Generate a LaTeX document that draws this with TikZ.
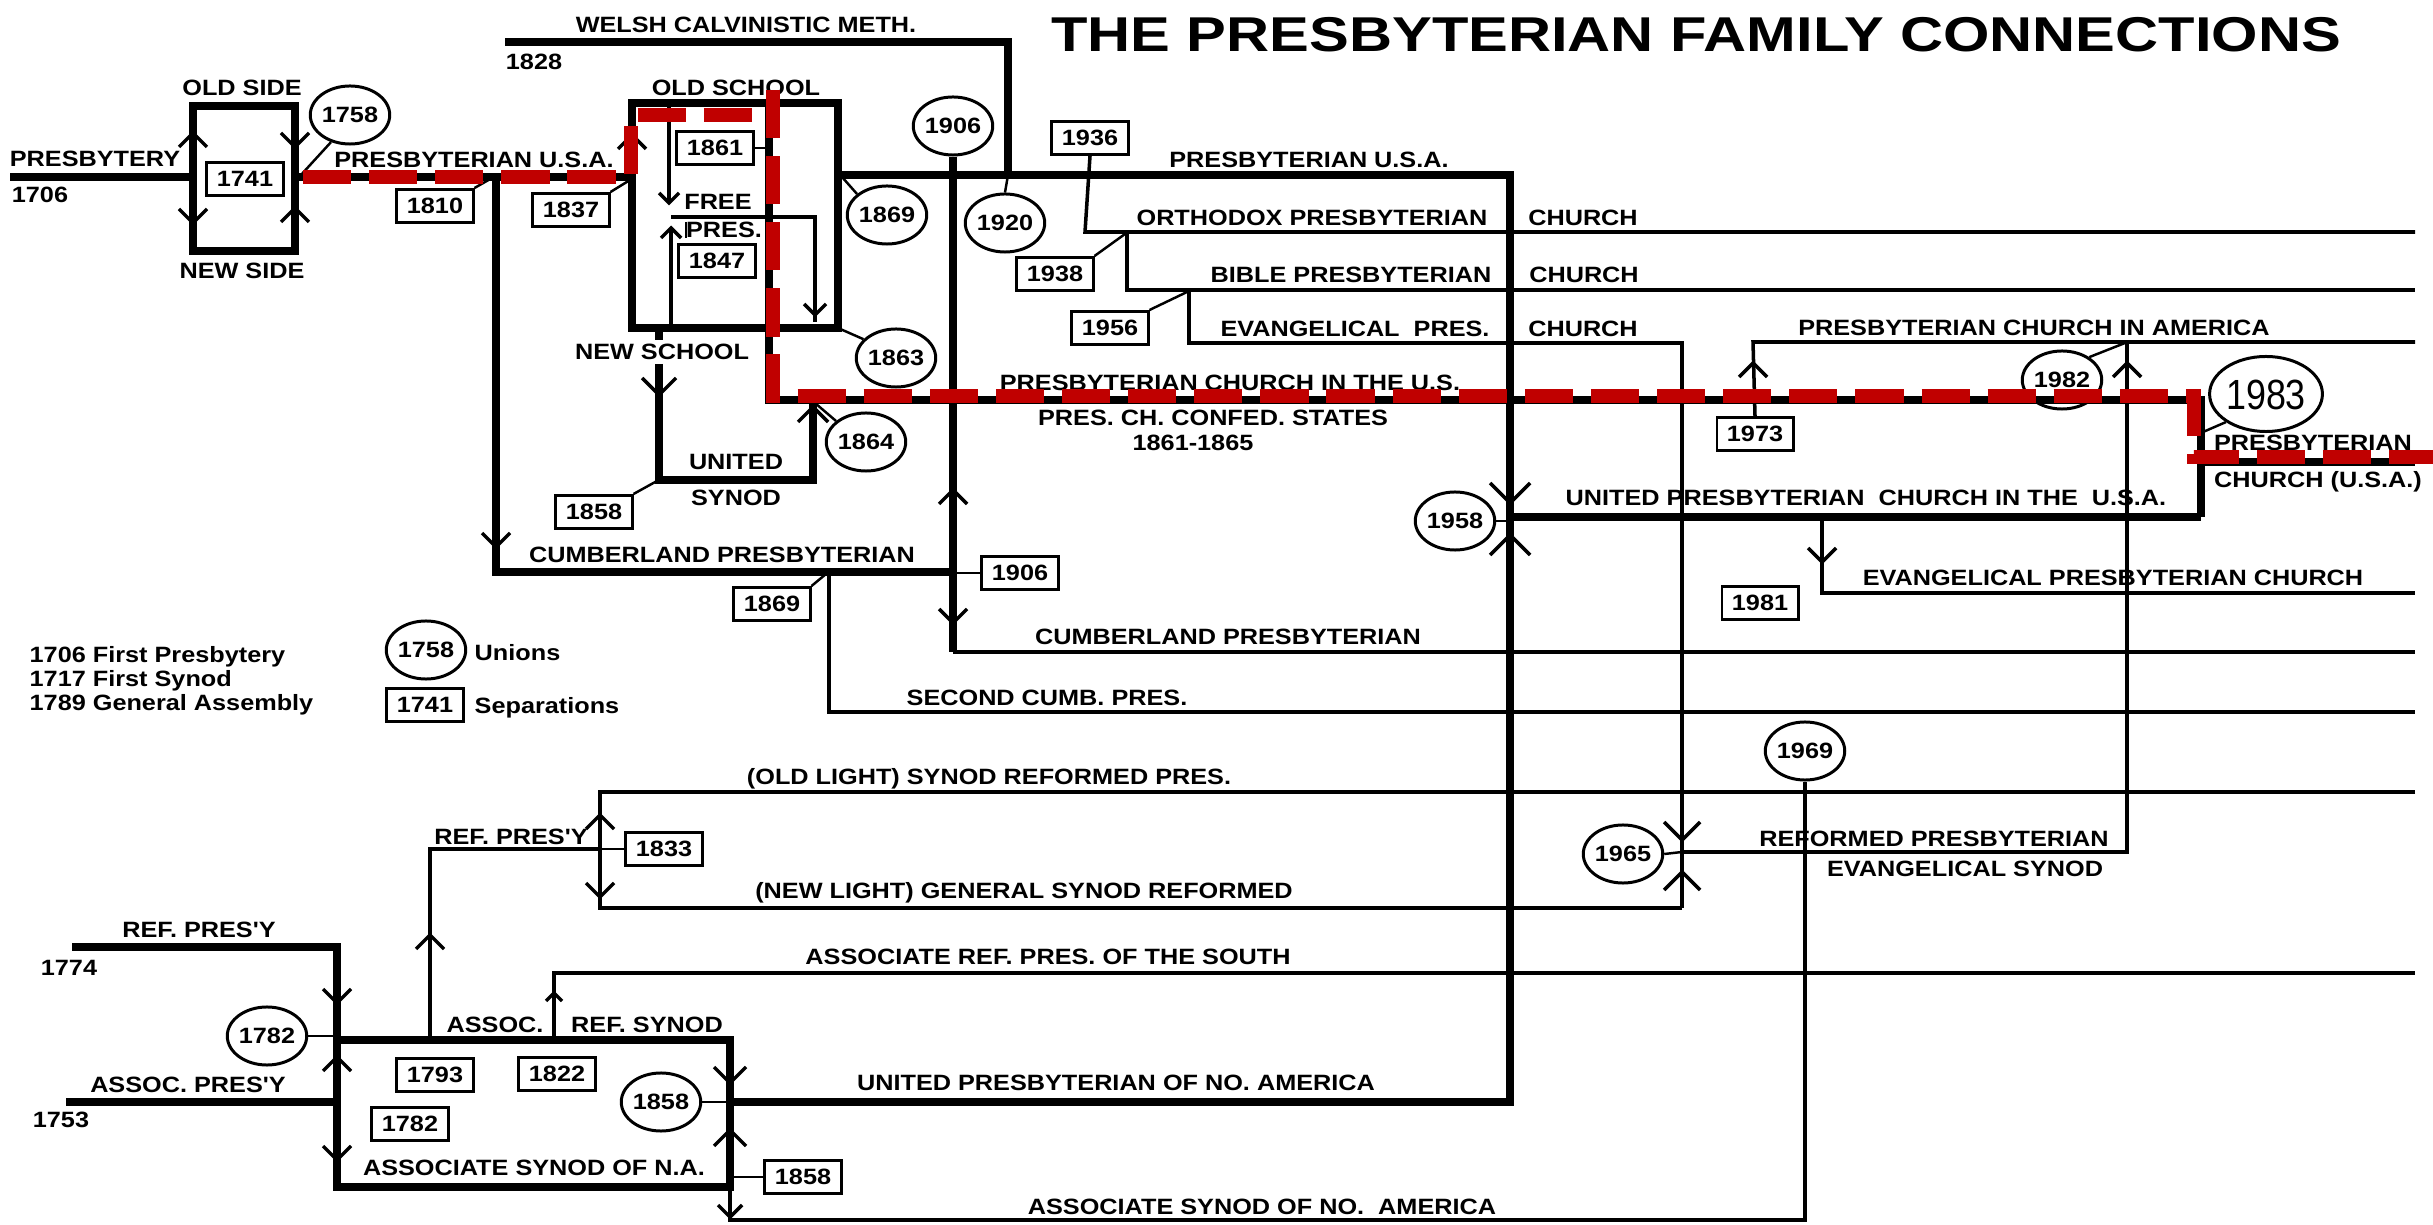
\documentclass[tikz,border=0pt]{standalone}
\usepackage{fontspec}
\setmainfont{Liberation Sans}
\newfontfamily\labfont[FakeStretch=1.14]{Liberation Sans Bold}
\newfontfamily\ttlfont[FakeStretch=1.22]{Liberation Sans Bold}
\newfontfamily\bigfont[FakeStretch=0.85]{Liberation Sans}
\usetikzlibrary{shapes.geometric}
\definecolor{rd}{RGB}{192,0,0}
\begin{document}
\begin{tikzpicture}[x=0.01cm,y=-0.01cm,
  thk/.style={line width=2.3pt},
  thn/.style={line width=1pt},
  ldr/.style={line width=0.7pt},
  chv/.style={line width=1pt},
  lbl/.style={font=\labfont\fontsize{6.3}{7}\selectfont, inner sep=0pt, text height=4.5pt, text depth=0pt},
  yrb/.style={draw, line width=0.85pt, inner sep=0pt, minimum width=0.76cm, minimum height=0.33cm,
              font=\labfont\fontsize{6.3}{7}\selectfont, text height=4.5pt, text depth=0pt},
  yrc/.style={ellipse, draw, line width=0.85pt, inner sep=0pt, minimum width=0.74cm, minimum height=0.58cm,
              font=\labfont\fontsize{6.3}{7}\selectfont, text height=4.5pt, text depth=0pt},
  rdash/.style={draw=rd, line width=4pt, dash pattern=on 13.7pt off 5.1pt},
  pics/cu/.style={code={\draw[chv] (-#1,#1)--(0,0)--(#1,#1);}},
  pics/cu/.default=14,
  pics/cd/.style={code={\draw[chv] (-#1,-#1)--(0,0)--(#1,-#1);}},
  pics/cd/.default=14]
\useasboundingbox[fill=white] (0,0) rectangle (2433,1225);

% ---------- title
\node[font=\ttlfont\fontsize{13.9}{16}\selectfont, inner sep=0pt, text height=9.95pt, text depth=0pt]
  (title) at (1696,34) {THE PRESBYTERIAN FAMILY CONNECTIONS};

% ---------- top left: presbytery, old side / new side
\node[lbl] (tPby) at (95,159) {PRESBYTERY};
\node[lbl] (t1706) at (40,195) {1706};
\draw[thk] (10,177) -- (193,177);
\draw[thk] (193,106) rectangle (295,251);
\node[lbl] (tOldSide) at (242,88) {OLD SIDE};
\node[lbl] (tNewSide) at (242,271) {NEW SIDE};
\node[yrb, fill=white] (b1741) at (245,179) {1741};
\pic at (193,133) {cu}; \pic at (193,223) {cd};
\pic at (295,147) {cd}; \pic at (295,208) {cu};
\node[yrc] (c1758) at (350,115) {1758};
\draw[ldr] (c1758.235) -- (300,176);

% ---------- presbyterian u.s.a. (first)
\draw[thk] (295,177) -- (632,177);
\node[lbl] (tPUSA1) at (474,160) {PRESBYTERIAN U.S.A.};
\node[yrb] (b1810) at (435,206) {1810};
\draw[ldr] (b1810.north east) -- (492,178);
\node[yrb] (b1837) at (571,210) {1837};
\draw[ldr] (b1837.north east) -- (630,180);

% ---------- cumberland (upper)
\draw[thk] (496,177) -- (496,572) -- (953,572);
\pic at (496,547) {cd};
\node[lbl] (tCumb1) at (722,555) {CUMBERLAND PRESBYTERIAN};
\node[yrb] (b1869b) at (772,604) {1869};
\draw[ldr] (b1869b.north east) -- (826,574);
\draw[thn] (829,572) -- (829,712) -- (2415,712);
\node[lbl] (tSecond) at (1047,698) {SECOND CUMB. PRES.};

% ---------- old school box
\draw[thk] (632,103) rectangle (838,328);
\pic at (632,135) {cu};
\node[lbl] (tOldSchool) at (736,88) {OLD SCHOOL};
\draw[thk] (769,103) -- (769,400) -- (2201,400) -- (2201,517);
\node[yrb] (b1861) at (715,148) {1861};
\draw[ldr] (b1861.east) -- (769,148);
% free presbyterian
\draw[thn] (669,103) -- (669,203);
\pic at (669,203) {cd=10};
\node[lbl] (tFree) at (718,202) {FREE};
\draw[thn] (671,217) -- (815,217) -- (815,322);
\draw[ldr] (686,222) -- (686,238);
\pic at (815,315) {cd=11};
\draw[thn] (671,328) -- (671,228);
\pic at (671,228) {cu=10};
\node[lbl] (tPres) at (724,230) {PRES.};
\node[yrb] (b1847) at (717,261) {1847};
\node[yrc] (c1869) at (887,215) {1869};
\draw[ldr] (c1869.145) -- (842,177);
\node[yrc] (c1863) at (896,358) {1863};
\draw[ldr] (838,328) -- (c1863.150);

% ---------- new school / united synod
\draw[thk] (659,328) -- (659,340);
\node[lbl] (tNewSchool) at (662,352) {NEW SCHOOL};
\draw[thk] (659,364) -- (659,480) -- (813,480) -- (813,400);
\pic at (659,395) {cd=17};
\pic at (813,407) {cu=15};
\node[lbl] (tUnited) at (736,462) {UNITED};
\node[lbl] (tSynod) at (736,498) {SYNOD};
\node[yrb] (b1858a) at (594,512) {1858};
\draw[ldr] (b1858a.north east) -- (657,481);
\node[yrc] (c1864) at (866,442) {1864};
\draw[ldr] (815,403) -- (c1864.145);

% ---------- PCUS labels
\node[lbl] (tPCUS) at (1230,383) {PRESBYTERIAN CHURCH IN THE U.S.};
\node[lbl] (tConfed) at (1213,418) {PRES. CH. CONFED. STATES};
\node[lbl] (tConfYrs) at (1193,443) {1861-1865};

% ---------- welsh calvinistic
\node[lbl] (tWelsh) at (746,25) {WELSH CALVINISTIC METH.};
\node[lbl] (t1828) at (534,62) {1828};
\node[yrc] (c1920) at (1005,223) {1920};
\draw[thk] (505,42) -- (1008,42) -- (1008,175);
\draw[ldr] (1008,175) -- (c1920.north);

% ---------- presbyterian u.s.a. (second) and big trunk
\draw[thk] (838,175) -- (1510,175) -- (1510,1102) -- (730,1102);
\node[lbl] (tPUSA2) at (1309,160) {PRESBYTERIAN U.S.A.};
\node[yrc] (c1906) at (953,126) {1906};
\draw[thk] (c1906.south) -- (953,652);
\draw[thn] (953,652) -- (2415,652);
\pic at (953,490) {cu}; \pic at (953,623) {cd};
\node[yrb] (b1906) at (1020,573) {1906};
\draw[ldr] (953,573) -- (b1906.west);
\node[lbl] (tCumb2) at (1228,637) {CUMBERLAND PRESBYTERIAN};

% ---------- orthodox / bible / evangelical
\node[yrb] (b1936) at (1090,138) {1936};
\draw[thn] (b1936.south) -- (1085,232) -- (2415,232);
\node[lbl] (tOrth) at (1312,218) {ORTHODOX PRESBYTERIAN};
\node[lbl] (tOrthC) at (1583,218) {CHURCH};
\draw[thn] (1127,232) -- (1127,290) -- (2415,290);
\node[yrb] (b1938) at (1055,274) {1938};
\draw[ldr] (b1938.north east) -- (1125,234);
\node[lbl] (tBible) at (1351,275) {BIBLE PRESBYTERIAN};
\node[lbl] (tBibleC) at (1584,275) {CHURCH};
\draw[thn] (1189,290) -- (1189,343) -- (1682,343) -- (1682,908);
\node[yrb] (b1956) at (1110,328) {1956};
\draw[ldr] (b1956.north east) -- (1187,292);
\node[lbl] (tEvang) at (1355,329) {EVANGELICAL\ \ PRES.};
\node[lbl] (tEvangC) at (1583,329) {CHURCH};

% ---------- PCA
\node[yrb] (b1973) at (1755,434) {1973};
\draw[thn] (b1973.north) -- (1753,342) -- (2415,342);
\pic at (1753,363) {cu};
\node[lbl] (tPCA) at (2034,328) {PRESBYTERIAN CHURCH IN AMERICA};
\node[yrc] (c1982) at (2062,380) {1982};
\draw[ldr] (c1982.40) -- (2125,343);
\draw[thn] (1682,852) -- (2127,852) -- (2127,342);
\pic at (2127,363) {cu};

% ---------- UPCUSA and PC(USA)
\draw[thk] (1510,517) -- (2201,517);
\draw[thk] (2201,462) -- (2415,462);
\node[yrc] (c1958) at (1455,521) {1958};
\draw[ldr] (c1958.east) -- (1510,521);
\pic at (1510,503) {cd=20}; \pic at (1510,535) {cu=20};
\node[lbl] (tUPCUSA) at (1866,498) {UNITED PRESBYTERIAN\ \ CHURCH IN THE\ \ U.S.A.};
\node[lbl] (tPCUSA1) at (2313,443) {PRESBYTERIAN};
\node[lbl] (tPCUSA2) at (2318,480) {CHURCH (U.S.A.)};
\node[ellipse, draw, line width=0.85pt, inner sep=0pt, minimum width=0.92cm, minimum height=0.75cm,
      font=\bigfont\fontsize{12}{14}\selectfont, text height=8.6pt, text depth=0pt] (c1983) at (2266,394) {1983};
\draw[ldr] (c1983.215) -- (2203,432);

% ---------- EPC
\draw[thn] (1822,517) -- (1822,593) -- (2415,593);
\pic at (1822,562) {cd};
\node[lbl] (tEPC) at (2113,578) {EVANGELICAL PRESBYTERIAN CHURCH};
\node[yrb] (b1981) at (1760,603) {1981};

% ---------- legend
\node[lbl, anchor=west] (lg1) at (29,655) {1706 First Presbytery};
\node[lbl, anchor=west] (lg2) at (29,679) {1717 First Synod};
\node[lbl, anchor=west] (lg3) at (29,703) {1789 General Assembly};
\node[yrc] (cLeg) at (426,650) {1758};
\node[lbl, anchor=west] (lgU) at (474,653) {Unions};
\node[yrb] (bLeg) at (425,705) {1741};
\node[lbl, anchor=west] (lgS) at (474,706) {Separations};

% ---------- reformed lines
\draw[thn] (2415,792) -- (600,792) -- (600,908) -- (1682,908);
\pic at (600,815) {cu}; \pic at (600,897) {cd};
\node[lbl] (tOldLight) at (989,777) {(OLD LIGHT) SYNOD REFORMED PRES.};
\node[lbl] (tNewLight) at (1024,891) {(NEW LIGHT) GENERAL SYNOD REFORMED};
\draw[thn] (430,1040) -- (430,849) -- (600,849);
\pic at (430,935) {cu};
\node[lbl] (tRefP2) at (511,837) {REF. PRES'Y};
\node[yrb] (b1833) at (664,849) {1833};
\draw[ldr] (600,849) -- (b1833.west);
\node[yrc] (c1965) at (1623,854) {1965};
\draw[ldr] (c1965.east) -- (1682,852);
\pic at (1682,840) {cd=18}; \pic at (1682,872) {cu=18};
\node[lbl] (tRPES1) at (1934,839) {REFORMED PRESBYTERIAN};
\node[lbl] (tRPES2) at (1965,869) {EVANGELICAL SYNOD};
\node[yrc] (c1969) at (1805,751) {1969};
\draw[thn] (c1969.south) -- (1805,1220) -- (730,1220) -- (730,1187);
\draw[thn] (554,1040) -- (554,973) -- (2415,973);
\pic at (554,993) {cu=8};
\node[lbl] (tARP) at (1048,957) {ASSOCIATE REF. PRES. OF THE SOUTH};

% ---------- lower left: associate synod
\node[lbl] (tRefP1) at (199,930) {REF. PRES'Y};
\node[lbl] (t1774) at (69,968) {1774};
\draw[thk] (72,947) -- (337,947) -- (337,1040);
\node[lbl] (tAssP) at (188,1085) {ASSOC. PRES'Y};
\node[lbl] (t1753) at (61,1120) {1753};
\draw[thk] (66,1102) -- (337,1102);
\draw[thk] (337,1040) rectangle (730,1187);
\pic at (337,1003) {cd}; \pic at (337,1057) {cu}; \pic at (337,1160) {cd};
\node[yrc] (c1782) at (267,1036) {1782};
\draw[ldr] (c1782.east) -- (337,1036);
\node[yrb] (b1793) at (435,1075) {1793};
\node[yrb] (b1822) at (557,1074) {1822};
\node[yrb] (b1782) at (410,1124) {1782};
\node[lbl] (tAssoc) at (495,1025) {ASSOC.};
\node[lbl] (tRefSyn) at (647,1025) {REF. SYNOD};
\node[lbl] (tASNA) at (534,1168) {ASSOCIATE SYNOD OF N.A.};
\node[yrc] (c1858) at (661,1102) {1858};
\draw[ldr] (c1858.east) -- (730,1102);
\pic at (730,1083) {cd=16}; \pic at (730,1130) {cu=16};
\node[lbl] (tUPNA) at (1116,1083) {UNITED PRESBYTERIAN OF NO. AMERICA};
\node[yrb] (b1858b) at (803,1177) {1858};
\draw[ldr] (730,1177) -- (b1858b.west);
\pic at (730,1217) {cd=12};
\node[lbl] (tASNoA) at (1262,1207) {ASSOCIATE SYNOD OF NO.\ \ AMERICA};

% ---------- red dashed route
\draw[rdash] (303,177) -- (631,177) -- (631,115) -- (760,115);
\draw[rdash] (773,90) -- (773,396) -- (2194,396) -- (2194,457) -- (2433,457);
\end{tikzpicture}
\end{document}
